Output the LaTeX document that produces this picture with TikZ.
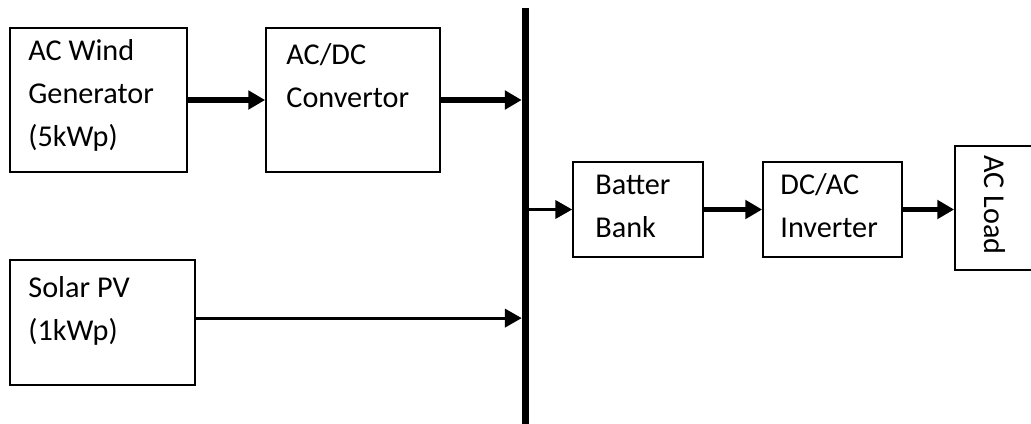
\documentclass[tikz,border=0pt]{standalone}
\usepackage{fontspec}
\setmainfont{Carlito}
\usepackage{tikz}
\usetikzlibrary{arrows.meta,calc}
\definecolor{figline}{RGB}{0,0,0}
\tikzset{
  blk/.style  ={draw=figline, line width=1.2pt, inner sep=0pt},
  txt/.style  ={font=\fontsize{21.5}{30.5}\selectfont, align=left, inner sep=0pt, anchor=base west},
  arrt/.style ={draw=figline, line width=3.6pt, -{Triangle[length=12pt,width=13pt]}},
  arrn/.style ={draw=figline, line width=2.2pt, -{Triangle[length=12pt,width=13pt]}},
}
\begin{document}
\begin{tikzpicture}[x=0.025cm,y=-0.025cm]
  \useasboundingbox (0,0) rectangle (1031,423);
  \node[blk, minimum width=4.425cm, minimum height=3.6cm] (wind) at (98.5,100) {};
  \node[blk, minimum width=4.35cm, minimum height=3.6cm] (acdc) at (353,100) {};
  \node[blk, minimum width=4.625cm, minimum height=3.125cm] (solar) at (102.5,322.5) {};
  \node[blk, minimum width=3.25cm, minimum height=2.375cm] (batt) at (638,209.5) {};
  \node[blk, minimum width=3.475cm, minimum height=2.375cm] (inv) at (832.5,209.5) {};
  \node[blk, minimum width=2cm, minimum height=3.1cm] (load) at (995,208) {};
  \node[fill=figline, inner sep=0pt, minimum width=0.175cm, minimum height=10.6cm] (bus) at (525.5,220) {};
  \node[txt] (windt) at ([shift={(19,119)}]wind.north west) {AC Wind\\Generator\\(5kWp)};
  \node[txt] (acdct) at ([shift={(21,80)}]acdc.north west) {AC/DC\\Convertor};
  \node[txt] (solart) at ([shift={(19,81)}]solar.north west) {Solar PV\\(1kWp)};
  \node[txt] (battt) at ([shift={(23,76)}]batt.north west) {Batter\\Bank};
  \node[txt] (invt) at ([shift={(18,76)}]inv.north west) {DC/AC\\Inverter};
  \node[font=\fontsize{21.5}{30.5}\selectfont, rotate=-90, inner sep=0pt] (loadt) at ([yshift=0.08cm]load.center) {AC Load};
  \coordinate (solarout) at ([yshift=0.11cm]solar.east);
  \draw[arrt] (wind.east) -- (acdc.west);
  \draw[arrt] (acdc.east) -- (acdc.east -| bus.west);
  \draw[arrn] (solarout) -- (solarout -| bus.west);
  \draw[arrn] (batt.west -| bus.east) -- (batt.west);
  \draw[arrt] (batt.east) -- (inv.west);
  \draw[arrt] (inv.east) -- (inv.east -| load.west);
\end{tikzpicture}
\end{document}
